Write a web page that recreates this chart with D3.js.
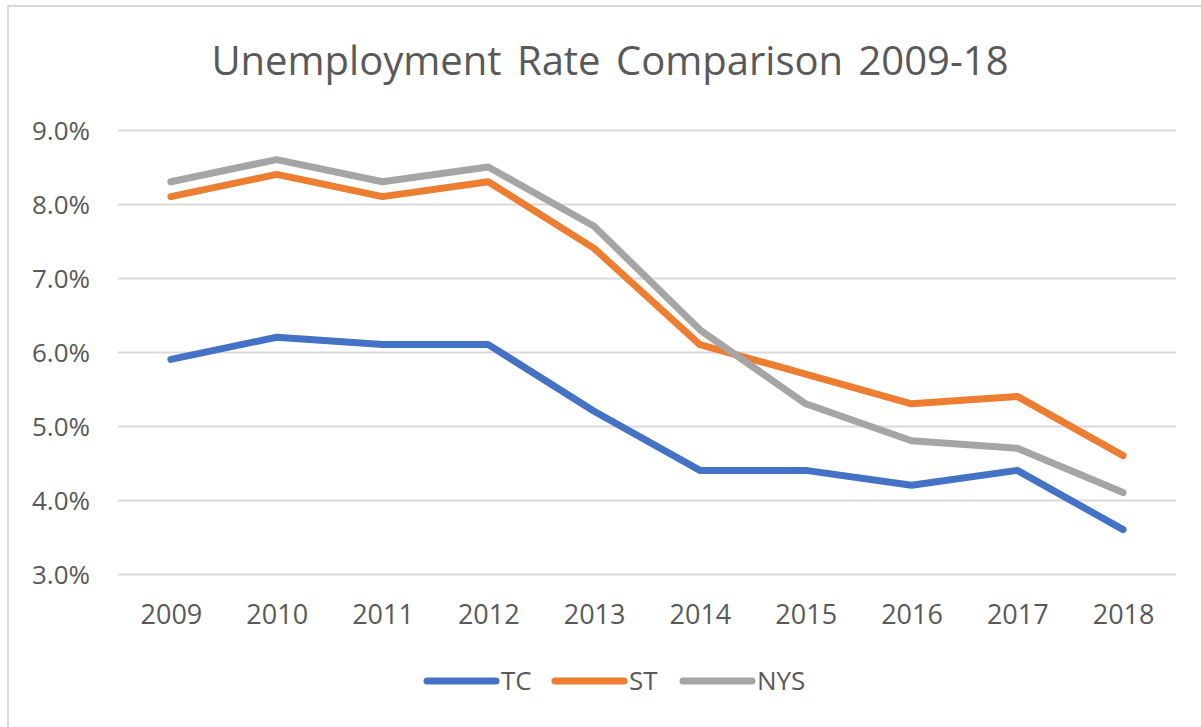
<!DOCTYPE html>
<html>
<head>
<meta charset="utf-8">
<script src="https://cdn.jsdelivr.net/npm/d3@7"></script>
<style>
  html, body { margin: 0; padding: 0; background: #fff; }
  svg { display: block; }
  text { font-family: "Open Sans", "Noto Sans", sans-serif; fill: #595959; }
</style>
</head>
<body>
<svg id="chart" width="1201" height="727"></svg>
<script>
const years = ["2009","2010","2011","2012","2013","2014","2015","2016","2017","2018"];
const seriesNames = ["TC", "ST", "NYS"];
const tcValues  = [5.9, 6.2, 6.1, 6.1, 5.2, 4.4, 4.4, 4.2, 4.4, 3.6];
const stValues  = [8.1, 8.4, 8.1, 8.3, 7.4, 6.1, 5.7, 5.3, 5.4, 4.6];
const nysValues = [8.3, 8.6, 8.3, 8.5, 7.7, 6.3, 5.3, 4.8, 4.7, 4.1];
const yTicks = [3, 4, 5, 6, 7, 8, 9];
const colors = ["#4472C4", "#ED7D31", "#A5A5A5"];
const titleText = "Unemployment Rate Comparison 2009-18";

const series = [
  { name: seriesNames[0], values: tcValues,  color: colors[0] },
  { name: seriesNames[1], values: stValues,  color: colors[1] },
  { name: seriesNames[2], values: nysValues, color: colors[2] }
];

const svg = d3.select("#chart");
const plot = { left: 118, right: 1176, top: 130, bottom: 574 };

// chart border
svg.append("rect")
  .attr("x", 8).attr("y", 6).attr("width", 1220).attr("height", 740)
  .attr("fill", "#fff").attr("stroke", "#d9d9d9").attr("stroke-width", 2);

const x = d3.scalePoint().domain(years).range([plot.left, plot.right]).padding(0.5);
const y = d3.scaleLinear().domain([3, 9]).range([plot.bottom, plot.top]);

// title
svg.append("text")
  .attr("x", 610).attr("y", 75)
  .attr("text-anchor", "middle")
  .style("font-size", "40px")
  .style("word-spacing", "5px")
  .text(titleText);

// y axis with gridlines
const yAxis = svg.append("g")
  .attr("transform", `translate(${plot.left},0)`)
  .call(d3.axisLeft(y).tickValues(yTicks)
    .tickSize(-(plot.right - plot.left))
    .tickPadding(28)
    .tickFormat(d => d.toFixed(1) + "%"));
yAxis.select(".domain").remove();
yAxis.selectAll(".tick line").attr("stroke", "#d9d9d9").attr("stroke-width", 2);
yAxis.selectAll(".tick text")
  .style("font-size", "26px")
  .attr("fill", "#595959")
  .attr("dy", "0.35em");

// x axis
const xAxis = svg.append("g")
  .attr("transform", `translate(0,${plot.bottom})`)
  .call(d3.axisBottom(x).tickSize(0).tickPadding(0));
xAxis.select(".domain").remove();
xAxis.selectAll(".tick text")
  .style("font-size", "27px")
  .attr("fill", "#595959")
  .attr("y", 50)
  .attr("dy", 0);

// lines
const line = d3.line()
  .x((d, i) => x(years[i]))
  .y(d => y(d));

svg.append("g").selectAll("path")
  .data(series)
  .join("path")
  .attr("d", d => line(d.values))
  .attr("fill", "none")
  .attr("stroke", d => d.color)
  .attr("stroke-width", 7)
  .attr("stroke-linejoin", "round")
  .attr("stroke-linecap", "round");

// legend
const legendStarts = [427, 555, 683];
const legend = svg.append("g");
const items = legend.selectAll("g")
  .data(series)
  .join("g")
  .attr("transform", (d, i) => `translate(${legendStarts[i]},681)`);
items.append("line")
  .attr("x1", 0).attr("x2", 69).attr("y1", 0).attr("y2", 0)
  .attr("stroke", d => d.color)
  .attr("stroke-width", 7)
  .attr("stroke-linecap", "round");
items.append("text")
  .attr("x", 74).attr("y", 0).attr("dy", "0.36em")
  .style("font-size", "26px")
  .text(d => d.name);
</script>
</body>
</html>
